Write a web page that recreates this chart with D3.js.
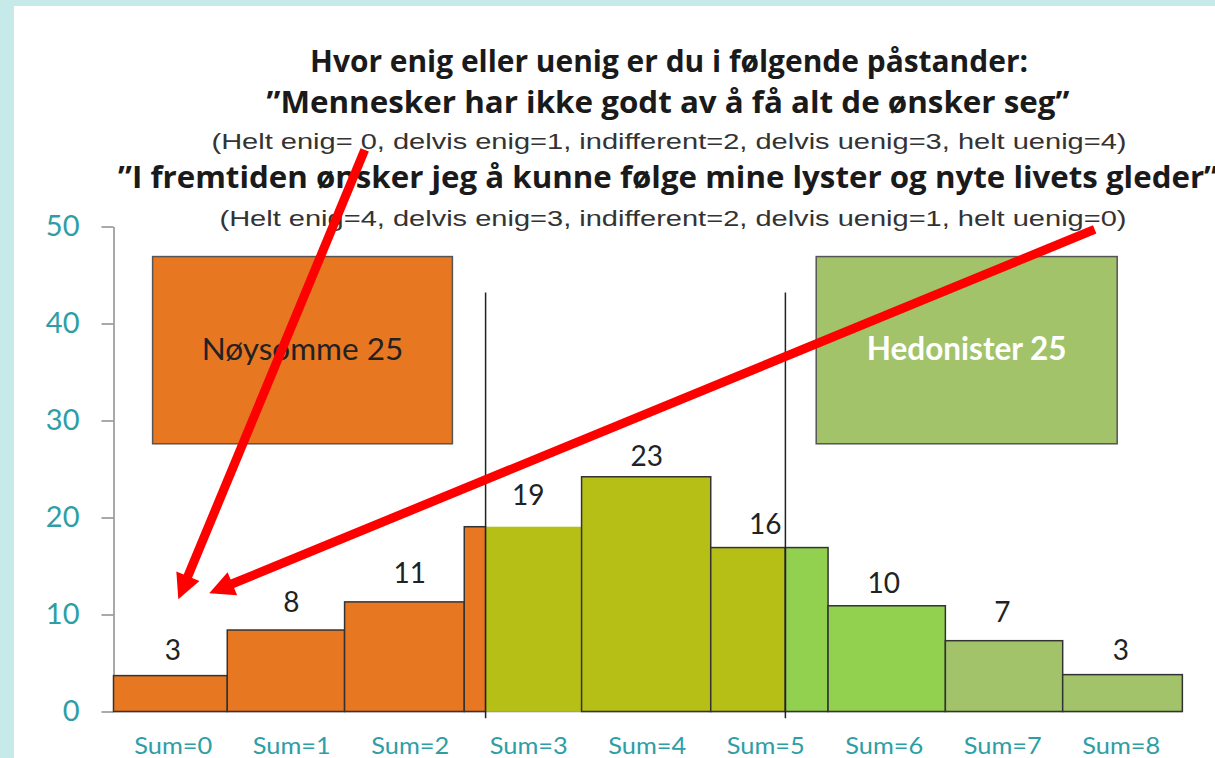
<!DOCTYPE html>
<html><head><meta charset="utf-8">
<script src="https://cdn.jsdelivr.net/npm/d3@7"></script>
<style>html,body{margin:0;padding:0;background:#fff;overflow:hidden} svg{display:block}</style>
</head><body>
<script>
// ---- data ----
const categories = ["Sum=0","Sum=1","Sum=2","Sum=3","Sum=4","Sum=5","Sum=6","Sum=7","Sum=8"];
const counts = [3, 8, 11, 19, 23, 16, 10, 7, 3];               // printed labels
const barHeights = [3.7, 8.4, 11.3, 19.05, 24.2, 16.9, 10.9, 7.3, 3.8]; // drawn heights
const binEdges = [-0.5, 0.46, 1.45, 2.46, 3.45, 4.54, 5.53, 6.52, 7.51, 8.52];
const groupCuts = [2.64, 5.17];
const barColors = [["orange"],["orange"],["orange"],["orange","olive"],["olive"],["olive","green"],["green"],["sage"],["sage"]];
const barStroke = [[1],[1],[1],[1,0],[1],[1,1],[1],[1],[1]];
const yTicks = [0, 10, 20, 30, 40, 50];
const titleLines = [
  "Hvor enig eller uenig er du i følgende påstander:",
  "”Mennesker har ikke godt av å få alt de ønsker seg”",
  "(Helt enig= 0, delvis enig=1, indifferent=2, delvis uenig=3, helt uenig=4)",
  "”I fremtiden ønsker jeg å kunne følge mine lyster og nyte livets gleder”",
  "(Helt enig=4, delvis enig=3, indifferent=2, delvis uenig=1, helt uenig=0)"
];
const boxLabels = ["Nøysomme 25", "Hedonister 25"];
const boxX = [[-0.17, 2.36], [5.43, 7.97]];
const boxY = [[27.6, 46.9], [27.6, 46.9]];
const arrowFrom = [[1.62, 57.9], [7.78, 49.7]];
const arrowTo = [[0.047, 11.57], [0.308, 12.19]];

const palette = {orange:"#e87722", olive:"#b5bf16", green:"#92d050", sage:"#a2c36a"};

// ---- setup ----
const W = 1215, H = 758;
const svg = d3.select("body").append("svg").attr("width", W).attr("height", H);
svg.append("rect").attr("width", W).attr("height", H).attr("fill", "#c6e9e9");
svg.append("rect").attr("x", 14).attr("y", 6).attr("width", W - 14).attr("height", H - 6).attr("fill", "#fff");

const x = d3.scaleLinear().domain([-0.5, 8.5]).range([113.5, 1180]);
const y = d3.scaleLinear().domain([0, 50]).range([711.5, 226.5]);

// titles
const tStyles = [
  {cx:669, y:72, size:30, weight:700, fam:"'Open Sans', sans-serif", fill:"#1a1a1a", len:718},
  {cx:668, y:113, size:30, weight:700, fam:"'Open Sans', sans-serif", fill:"#1a1a1a", len:803},
  {cx:669, y:149, size:22, weight:400, fam:"'Liberation Sans', Arial, sans-serif", fill:"#333", len:915},
  {cx:668, y:188, size:30, weight:700, fam:"'Open Sans', sans-serif", fill:"#1a1a1a", len:1100},
  {cx:673, y:226, size:22, weight:400, fam:"'Liberation Sans', Arial, sans-serif", fill:"#333", len:907}
];
svg.append("g").selectAll("text").data(titleLines).join("text")
  .attr("x", (d,i) => tStyles[i].cx - tStyles[i].len / 2).attr("y", (d,i) => tStyles[i].y)
  .attr("textLength", (d,i) => tStyles[i].len).attr("lengthAdjust", "spacingAndGlyphs")
  .attr("font-family", (d,i) => tStyles[i].fam)
  .attr("font-size", (d,i) => tStyles[i].size)
  .attr("font-weight", (d,i) => tStyles[i].weight)
  .attr("fill", (d,i) => tStyles[i].fill)
  .text(d => d);

// y axis
const yAxis = svg.append("g").attr("transform", `translate(${x(-0.5)},0)`)
  .call(d3.axisLeft(y).tickValues(yTicks).tickSize(12).tickSizeOuter(0).tickPadding(22));
yAxis.select(".domain").attr("stroke", "#8c8c8c").attr("stroke-width", 1.5);
yAxis.selectAll(".tick line").attr("stroke", "#8c8c8c").attr("stroke-width", 1.5);
yAxis.selectAll(".tick text").attr("fill", "#2e9ea6").attr("font-family", "Lato, sans-serif").attr("font-size", 29);

// baseline
svg.append("line").attr("x1", x(-0.5)).attr("x2", x(binEdges[9])).attr("y1", y(0)).attr("y2", y(0))
  .attr("stroke", "#8c8c8c").attr("stroke-width", 1.5);

// group boxes
const boxFill = [palette.orange, palette.sage];
const boxTextFill = ["#222", "#fff"];
const boxWeight = [400, 700];
boxLabels.forEach((lab, i) => {
  svg.append("rect")
    .attr("x", x(boxX[i][0])).attr("width", x(boxX[i][1]) - x(boxX[i][0]))
    .attr("y", y(boxY[i][1])).attr("height", y(boxY[i][0]) - y(boxY[i][1]))
    .attr("fill", boxFill[i]).attr("stroke", "#555").attr("stroke-width", 1.5);
  svg.append("text")
    .attr("x", (x(boxX[i][0]) + x(boxX[i][1])) / 2)
    .attr("y", (y(boxY[i][0]) + y(boxY[i][1])) / 2 + 10)
    .attr("text-anchor", "middle")
    .attr("font-family", "Lato, sans-serif").attr("font-size", 31.5)
    .attr("font-weight", boxWeight[i]).attr("fill", boxTextFill[i])
    .text(lab);
});

// bars split into segments at group cuts
const segs = [];
categories.forEach((c, i) => {
  const a = binEdges[i], b = binEdges[i + 1];
  const pts = [a, ...groupCuts.filter(g => g > a && g < b), b];
  for (let k = 0; k < pts.length - 1; k++) {
    segs.push({x0: pts[k], x1: pts[k + 1], v: barHeights[i], color: palette[barColors[i][k]], stroke: barStroke[i][k]});
  }
});
svg.append("g").selectAll("rect").data(segs).join("rect")
  .attr("x", d => x(d.x0)).attr("width", d => x(d.x1) - x(d.x0))
  .attr("y", d => y(d.v)).attr("height", d => y(0) - y(d.v))
  .attr("fill", d => d.color)
  .attr("stroke", d => d.stroke ? "#333" : "none").attr("stroke-width", 1.5);

// divider lines
svg.append("g").selectAll("line").data(groupCuts).join("line")
  .attr("x1", d => x(d)).attr("x2", d => x(d))
  .attr("y1", y(43.2)).attr("y2", y(-0.7))
  .attr("stroke", "#222").attr("stroke-width", 1.5);

// value labels
svg.append("g").selectAll("text").data(counts).join("text")
  .attr("x", (d, i) => x(i)).attr("y", d => y(d) - 22)
  .attr("text-anchor", "middle")
  .attr("font-family", "Lato, sans-serif").attr("font-size", 28).attr("fill", "#222")
  .text(d => d);

// x axis labels
const xAxis = svg.append("g").attr("transform", `translate(0,${y(0)})`)
  .call(d3.axisBottom(x).tickValues(d3.range(categories.length)).tickFormat(i => categories[i]).tickSize(0));
xAxis.select(".domain").remove();
xAxis.selectAll(".tick text").attr("dy", null).attr("y", 42)
  .attr("textLength", 78).attr("lengthAdjust", "spacingAndGlyphs")
  .attr("fill", "#2e9ea6").attr("font-family", "Lato, sans-serif").attr("font-size", 23);

// red arrows
const headLen = 25, headHalf = 12.5;
arrowFrom.forEach((f, i) => {
  const x1 = x(f[0]), y1 = y(f[1]), x2 = x(arrowTo[i][0]), y2 = y(arrowTo[i][1]);
  const dx = x2 - x1, dy = y2 - y1, L = Math.hypot(dx, dy);
  const ux = dx / L, uy = dy / L;
  const bx = x2 - ux * headLen, by = y2 - uy * headLen;
  svg.append("line").attr("x1", x1).attr("y1", y1).attr("x2", bx + ux * 2).attr("y2", by + uy * 2)
    .attr("stroke", "#ff0000").attr("stroke-width", 9);
  svg.append("path")
    .attr("d", `M${x2},${y2}L${bx - uy * headHalf},${by + ux * headHalf}L${bx + uy * headHalf},${by - ux * headHalf}Z`)
    .attr("fill", "#ff0000");
});
</script>
</body></html>
